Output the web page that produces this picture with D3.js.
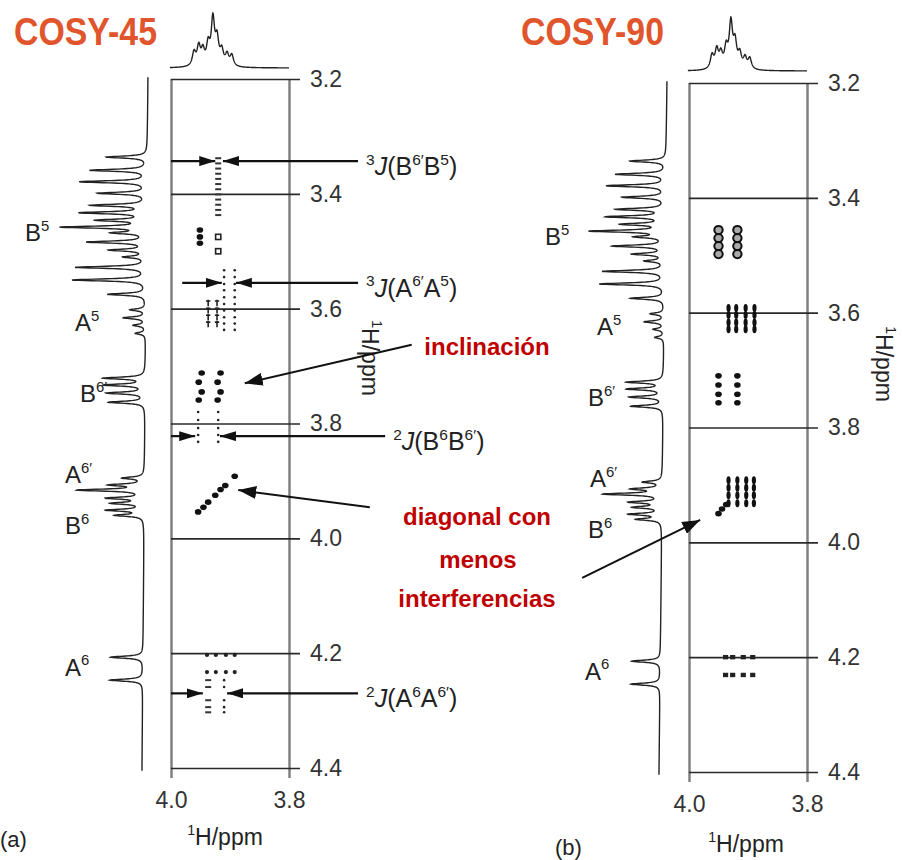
<!DOCTYPE html>
<html>
<head>
<meta charset="utf-8">
<script src="https://cdn.jsdelivr.net/npm/d3@7"></script>
<style>
body { margin: 0; background: #fff; }
svg text { font-family: "Liberation Sans", Arial, sans-serif; }
</style>
</head>
<body>
<div id="chart"></div>
<script>
'use strict';

// ---- data (ppm) --------------------------------------------------
var yTicks = [3.2, 3.4, 3.6, 3.8, 4.0, 4.2, 4.4];
var xTicks = [4.0, 3.8];

// F1 projection (left trace): line positions and relative heights
var f1Shift = [3.336, 3.359, 3.379, 3.399, 3.420, 3.433, 3.446, 3.458, 3.468, 3.484, 3.498, 3.510, 3.528, 3.550, 3.575,
               3.602, 3.616, 3.629, 3.643,
               3.721, 3.733, 3.747, 3.763,
               3.895, 3.907, 3.916, 3.930, 3.939, 3.951, 3.960,
               4.207, 4.247];
var f1Height = [48, 67, 79, 57, 65, 77, 57, 99, 37, 69, 42, 25, 83, 87, 45,
                18, 26, 14, 12,
                49, 48, 45, 43,
                25, 39, 77, 42, 37, 43, 33,
                39, 39];

// F2 projection (top trace)
var f2Shift  = [3.961, 3.953, 3.946, 3.937, 3.929, 3.922, 3.914, 3.905, 3.897];
var f2Height = [25, 34, 26, 36, 82, 45, 26, 20, 20];

// multiplet labels on the F1 trace
var mLabels = [
    {t: 'B', s: '5',  ppm: 3.468},
    {t: 'A', s: '5',  ppm: 3.625},
    {t: 'B', s: '6′', ppm: 3.748},
    {t: 'A', s: '6′', ppm: 3.890},
    {t: 'B', s: '6',  ppm: 3.978},
    {t: 'A', s: '6',  ppm: 4.225}
];
var mLabelX45 = [25, 75, 80, 65, 65, 65];
var mLabelX90 = [545, 597, 588, 590, 588, 585];

// cross peaks, COSY-45 (x = F2 ppm, y = F1 ppm)
var c45 = [
    {k: 'dash', x: [3.920], y: [3.338, 3.347, 3.356, 3.365, 3.374, 3.383, 3.392, 3.401, 3.410, 3.419, 3.428, 3.437]},
    {k: 'blob', x: [3.951], y: [3.463, 3.475, 3.486]},
    {k: 'box',  x: [3.920], y: [3.475, 3.500]},
    {k: 'dot',  x: [3.910, 3.892], y: [3.533, 3.545, 3.557, 3.568, 3.580, 3.592, 3.603, 3.615, 3.626, 3.637]},
    {k: 'tick', x: [3.937, 3.922], y: [3.590, 3.603, 3.615, 3.627]},
    {k: 'blob', x: [3.948, 3.916], y: [3.712, 3.745]},
    {k: 'blob', x: [3.953, 3.921], y: [3.728, 3.759]},
    {k: 'dot',  x: [3.954, 3.920], y: [3.780, 3.794, 3.808, 3.820, 3.832]},
    {k: 'blob', pts: [[3.954, 3.954], [3.945, 3.946], [3.937, 3.937], [3.925, 3.925], [3.916, 3.915], [3.908, 3.908], [3.892, 3.892]]},
    {k: 'star', x: [3.939, 3.924, 3.907, 3.892], y: [4.203, 4.233]},
    {k: 'dash', x: [3.937], y: [4.247, 4.259, 4.282, 4.294, 4.303]},
    {k: 'dot',  x: [3.910], y: [4.247, 4.259, 4.282, 4.294, 4.303]}
];

// cross peaks, COSY-90
var c90 = [
    {k: 'ring', x: [3.950, 3.918], y: [3.456, 3.470, 3.484, 3.498]},
    {k: 'bar',  x: [3.933, 3.920, 3.904, 3.889], y: [3.592, 3.604, 3.617, 3.629]},
    {k: 'blob', x: [3.950, 3.918], y: [3.710, 3.726, 3.742, 3.757]},
    {k: 'bar',  x: [3.933, 3.918, 3.903, 3.890], y: [3.892, 3.905, 3.918, 3.932]},
    {k: 'blob', pts: [[3.950, 3.950], [3.944, 3.942], [3.937, 3.934]]},
    {k: 'sq',   x: [3.938, 3.926, 3.908, 3.892], y: [4.200, 4.231]}
];

// coupling arrows on COSY-45: F1 ppm, F2 start, left tip, right tip, end
var jArrows = [
    {y: 3.343, from: 4.000, tipL: 3.925, tipR: 3.912, to: 3.683, lbl: [['3', 's'], ['J', 'i'], ['(B', ''], ['6′', 's'], ['B', ''], ['5', 's'], [')', '']]},
    {y: 3.555, from: 3.981, tipL: 3.914, tipR: 3.890, to: 3.683, lbl: [['3', 's'], ['J', 'i'], ['(A', ''], ['6′', 's'], ['A', ''], ['5', 's'], [')', '']]},
    {y: 3.822, from: 4.000, tipL: 3.959, tipR: 3.917, to: 3.637, lbl: [['2', 's'], ['J', 'i'], ['(B', ''], ['6', 's'], ['B', ''], ['6′', 's'], [')', '']]},
    {y: 4.270, from: 4.000, tipL: 3.946, tipR: 3.905, to: 3.683, lbl: [['2', 's'], ['J', 'i'], ['(A', ''], ['6', 's'], ['A', ''], ['6′', 's'], [')', '']]}
];

// annotation arrows [F2, F1] on a panel
var noteArrows = [
    {p: 0, from: [3.592, 3.663], to: [3.875, 3.730]},
    {p: 0, from: [3.663, 3.946], to: [3.886, 3.916]},
    {p: 1, from: [4.181, 4.062], to: [3.981, 3.961]}
];
var notes = [
    {t: 'inclinación', x: 487, y: 355},
    {t: 'diagonal con', x: 477, y: 525},
    {t: 'menos', x: 478, y: 568},
    {t: 'interferencias', x: 477, y: 607}
];

// ---- layout ------------------------------------------------------
var panels = [
    {title: 'COSY-45', titleX: 14, tag: '(a)', tagX: 0, tagY: 847, xr: [171, 289], yr: [79, 768],
     base: [148, 142], topBase: 68, f1Len: 84, f2Len: 55, peaks: c45, labX: mLabelX45,
     unitX: 225, unitY: 845, rotX: 362, rotY: 358},
    {title: 'COSY-90', titleX: 521, tag: '(b)', tagX: 555, tagY: 855, xr: [689, 807], yr: [83, 772],
     base: [667, 659], topBase: 71, f1Len: 74, f2Len: 54, peaks: c90, labX: mLabelX90,
     unitX: 746, unitY: 852, rotX: 876, rotY: 364}
];

var svg = d3.select('#chart').append('svg')
    .attr('width', 902)
    .attr('height', 860);

svg.append('rect').attr('width', 902).attr('height', 860).attr('fill', '#fff');

var defs = svg.append('defs');
function marker(id, w, h)
{
    defs.append('marker')
        .attr('id', id)
        .attr('viewBox', '0 0 10 10')
        .attr('refX', 10).attr('refY', 5)
        .attr('markerUnits', 'userSpaceOnUse')
        .attr('markerWidth', w).attr('markerHeight', h)
        .attr('preserveAspectRatio', 'none')
        .attr('orient', 'auto')
        .append('path').attr('d', 'M0,0L10,5L0,10z').attr('fill', '#111');
}
marker('ah', 16, 10);
marker('ah2', 18, 13);

function rich(sel, parts, size)
{
    var shift = 0;
    parts.forEach(function(p) {
        var want = p[1] === 's' ? -size * 0.42 : 0;
        var t = sel.append('tspan').text(p[0]).attr('dy', want - shift);
        shift = want;
        if (p[1] === 's') t.attr('font-size', size * 0.62);
        if (p[1] === 'i') t.attr('font-style', 'italic');
    });
}

function spectrum(shifts, heights, lo, hi, hw)
{
    var pts = [];
    for (var p = lo; p <= hi + 1e-9; p += 0.0003) {
        var s = 0;
        for (var i = 0; i < shifts.length; i++) {
            var d = (p - shifts[i]) / hw;
            s += heights[i] / (1 + d * d);
        }
        pts.push([p, s]);
    }
    return pts;
}

function drawPeak(g, k, px, py)
{
    if (k === 'dash') g.append('rect').attr('x', px - 3).attr('y', py - 1).attr('width', 6).attr('height', 2).attr('fill', '#333');
    else if (k === 'blob') g.append('ellipse').attr('cx', px).attr('cy', py).attr('rx', 3.3).attr('ry', 2.8).attr('fill', '#111');
    else if (k === 'box') g.append('rect').attr('x', px - 2.6).attr('y', py - 2.6).attr('width', 5.2).attr('height', 5.2)
        .attr('fill', 'none').attr('stroke', '#222').attr('stroke-width', 1.6);
    else if (k === 'dot') g.append('circle').attr('cx', px).attr('cy', py).attr('r', 1.3).attr('fill', '#222');
    else if (k === 'tick') g.append('path').attr('d', 'M' + (px - 2.2) + ',' + (py - 2) + 'H' + (px + 2.2) + 'M' + px + ',' + (py - 3.2) + 'V' + (py + 3.2))
        .attr('stroke', '#222').attr('stroke-width', 1.6);
    else if (k === 'star') g.append('circle').attr('cx', px).attr('cy', py).attr('r', 2.1).attr('fill', '#222');
    else if (k === 'ring') g.append('ellipse').attr('cx', px).attr('cy', py).attr('rx', 4.2).attr('ry', 4.1)
        .attr('fill', '#aaa').attr('stroke', '#111').attr('stroke-width', 2);
    else if (k === 'bar') g.append('ellipse').attr('cx', px).attr('cy', py).attr('rx', 2.1).attr('ry', 4).attr('fill', '#111');
    else if (k === 'sq') g.append('rect').attr('x', px - 2.6).attr('y', py - 2.2).attr('width', 5.2).attr('height', 4.4).attr('fill', '#222');
}

panels.forEach(function(P, pi) {
    var x = d3.scaleLinear().domain([4.0, 3.8]).range(P.xr);
    var y = d3.scaleLinear().domain([3.2, 4.4]).range(P.yr);
    var base = d3.scaleLinear().domain([3.2, 4.4]).range(P.base);
    var h1 = d3.scaleLinear().domain([0, 100]).range([0, P.f1Len]);
    var h2 = d3.scaleLinear().domain([0, 100]).range([0, P.f2Len]);
    P.x = x; P.y = y;

    var g = svg.append('g');

    // vertical frame lines / x ticks
    var xAxis = d3.axisBottom(x).tickValues(xTicks).tickFormat(d3.format('.1f'))
        .tickSize(y(4.4) + 10 - y(3.2)).tickPadding(14);
    var xg = g.append('g').attr('transform', 'translate(0,' + y(3.2) + ')').call(xAxis);
    xg.select('.domain').remove();
    xg.selectAll('line').attr('stroke', '#808080').attr('stroke-width', 2.5);
    xg.selectAll('text').attr('font-size', 23).attr('fill', '#333').attr('font-family', '"Liberation Sans", Arial, sans-serif');

    // horizontal lines / y ticks
    var yAxis = d3.axisRight(y).tickValues(yTicks).tickFormat(d3.format('.1f'))
        .tickSize(x(3.8) + 11 - x(4.0)).tickPadding(10);
    var yg = g.append('g').attr('transform', 'translate(' + x(4.0) + ',0)').call(yAxis);
    yg.select('.domain').remove();
    yg.selectAll('line').attr('stroke', '#2a2a2a').attr('stroke-width', 1.6);
    yg.selectAll('text').attr('font-size', 23).attr('fill', '#333').attr('font-family', '"Liberation Sans", Arial, sans-serif');

    // F1 projection
    var side = spectrum(f1Shift, f1Height, 3.197, 4.405, 0.0021);
    g.append('path').datum(side)
        .attr('d', d3.line().x(function(d) { return base(d[0]) - h1(d[1]); }).y(function(d) { return y(d[0]); }))
        .attr('fill', 'none').attr('stroke', '#222').attr('stroke-width', 1.4);

    // F2 projection
    var top = spectrum(f2Shift, f2Height, 3.8, 4.002, 0.0034);
    g.append('path').datum(top)
        .attr('d', d3.line().x(function(d) { return x(d[0]); }).y(function(d) { return P.topBase - h2(d[1]); }))
        .attr('fill', 'none').attr('stroke', '#222').attr('stroke-width', 1.4);

    // multiplet labels
    mLabels.forEach(function(m, i) {
        var t = g.append('text').attr('x', P.labX[i]).attr('y', y(m.ppm) + 8)
            .attr('font-size', 24).attr('fill', '#222');
        rich(t, [[m.t, ''], [m.s, 's']], 24);
    });

    // cross peaks
    var cg = g.append('g');
    P.peaks.forEach(function(c) {
        var pts = c.pts || d3.cross(c.x, c.y);
        pts.forEach(function(p) { drawPeak(cg, c.k, x(p[0]), y(p[1])); });
    });

    // title
    g.append('text').attr('x', P.titleX).attr('y', 45)
        .attr('font-size', 38).attr('font-weight', 'bold').attr('fill', '#e0552c')
        .attr('textLength', 143).attr('lengthAdjust', 'spacingAndGlyphs')
        .text(P.title);

    // panel tag and units
    g.append('text').attr('x', P.tagX).attr('y', P.tagY).attr('font-size', 22).attr('fill', '#222').text(P.tag);

    var u = g.append('text').attr('x', P.unitX).attr('y', P.unitY).attr('text-anchor', 'middle')
        .attr('font-size', 23).attr('fill', '#222');
    rich(u, [['1', 's'], ['H/ppm', '']], 23);

    var r = g.append('text').attr('transform', 'translate(' + P.rotX + ',' + P.rotY + ') rotate(90)')
        .attr('text-anchor', 'middle').attr('dy', '0.3em').attr('font-size', 23).attr('fill', '#222');
    rich(r, [['1', 's'], ['H/ppm', '']], 23);
});

// coupling arrows (COSY-45)
var pa = panels[0];
var ag = svg.append('g');
jArrows.forEach(function(a) {
    var yy = pa.y(a.y);
    ag.append('line').attr('x1', pa.x(a.from)).attr('x2', pa.x(a.tipL)).attr('y1', yy).attr('y2', yy)
        .attr('stroke', '#111').attr('stroke-width', 2.2).attr('marker-end', 'url(#ah)');
    ag.append('line').attr('x1', pa.x(a.to)).attr('x2', pa.x(a.tipR)).attr('y1', yy).attr('y2', yy)
        .attr('stroke', '#111').attr('stroke-width', 2.2).attr('marker-end', 'url(#ah)');
    var t = ag.append('text').attr('x', pa.x(a.to) + 8).attr('y', yy + 14)
        .attr('font-size', 25).attr('fill', '#222');
    rich(t, a.lbl, 25);
});

// annotation arrows and notes
noteArrows.forEach(function(n) {
    var P = panels[n.p];
    ag.append('line')
        .attr('x1', P.x(n.from[0])).attr('y1', P.y(n.from[1]))
        .attr('x2', P.x(n.to[0])).attr('y2', P.y(n.to[1]))
        .attr('stroke', '#111').attr('stroke-width', 2).attr('marker-end', 'url(#ah2)');
});

svg.selectAll('.note').data(notes).enter().append('text')
    .attr('class', 'note')
    .attr('x', function(d) { return d.x; })
    .attr('y', function(d) { return d.y; })
    .attr('text-anchor', 'middle')
    .attr('font-family', 'Lato, "Open Sans", sans-serif')
    .attr('font-weight', 'bold')
    .attr('font-size', 24)
    .attr('fill', '#c00000')
    .text(function(d) { return d.t; });
</script>
</body>
</html>
